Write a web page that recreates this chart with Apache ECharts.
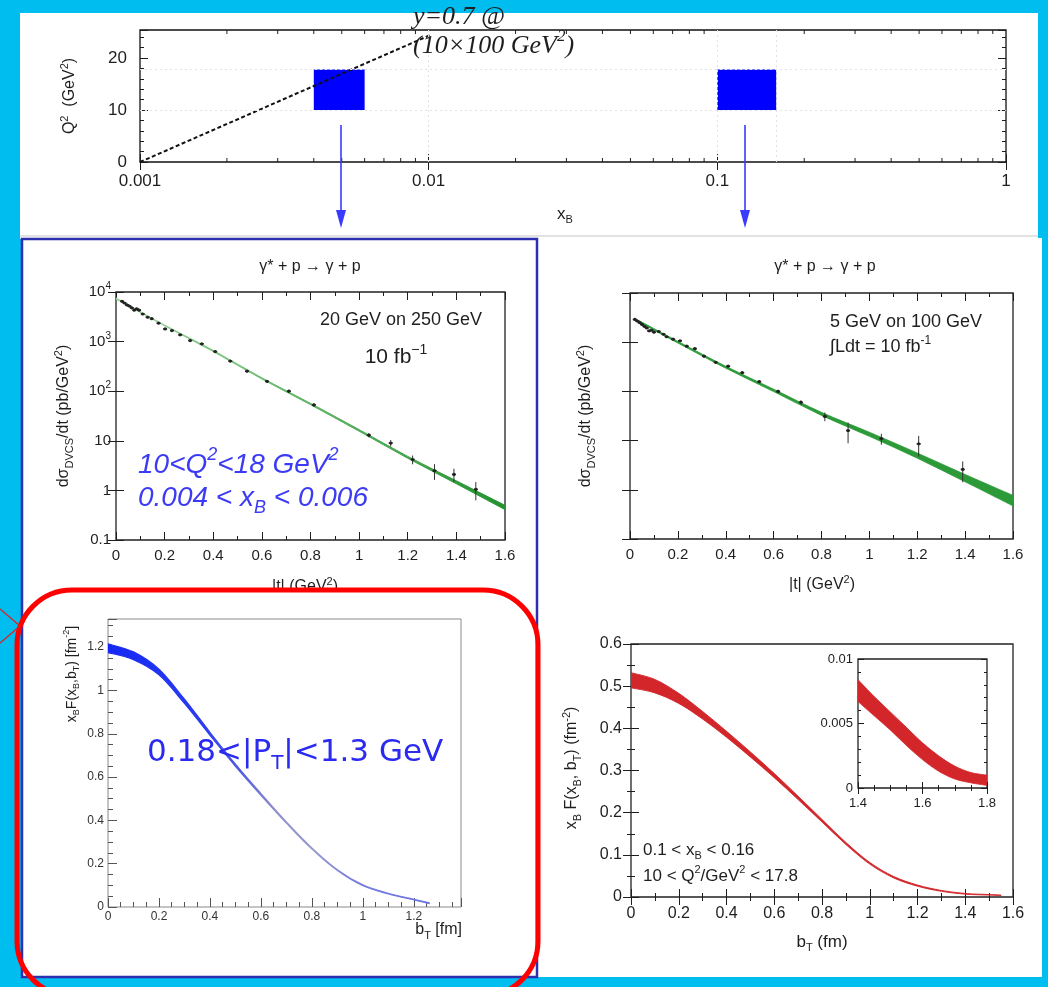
<!DOCTYPE html>
<html>
<head>
<meta charset="utf-8">
<script src="https://cdn.jsdelivr.net/npm/echarts@6/dist/echarts.min.js"></script>
<style>
  html, body { margin: 0; padding: 0; background: #00bdf0; }
  #c { width: 1048px; height: 987px; }
</style>
</head>
<body>
<div id="c"></div>
<script>
// ---------- kinematic coverage (x_B, Q^2) ----------
const binXLow  = [0.004, 0.1];
const binXHigh = [0.006, 0.16];
const binQ2Low  = [10, 10];
const binQ2High = [17.8, 17.8];
// y = 0.7 line
const yLineX  = [0.001, 0.0102];
const yLineQ2 = [0, 24.5];
// reference grid lines
const gridQ2 = [10, 17.8];
const gridX  = [0.004, 0.006, 0.1, 0.16];

// ---------- DVCS cross section, 20 GeV on 250 GeV ----------
const tA   = [0.025, 0.035, 0.045, 0.055, 0.065, 0.075, 0.085, 0.095, 0.11, 0.13, 0.147, 0.175, 0.202, 0.23, 0.264, 0.305, 0.353, 0.408, 0.47, 0.539, 0.621, 0.711, 0.814, 1.04, 1.13, 1.22, 1.31, 1.39, 1.48];
const sigA = [6500, 6000, 5500, 5200, 4800, 4300, 4600, 4300, 3600, 3100, 2900, 2350, 1800, 1670, 1370, 1050, 900, 630, 405, 253, 158, 100, 53, 13, 9, 4.2, 2.5, 2.1, 1.05];
const errA = [0.03, 0.03, 0.03, 0.03, 0.03, 0.03, 0.03, 0.03, 0.03, 0.03, 0.03, 0.03, 0.03, 0.03, 0.03, 0.04, 0.04, 0.04, 0.05, 0.05, 0.06, 0.07, 0.08, 0.1, 0.15, 0.2, 0.35, 0.3, 0.4];
const fitTA    = [0, 0.2, 0.4, 0.6, 0.8, 1.0, 1.2, 1.4, 1.6];
const fitLowA  = [7200, 2080, 630, 176, 53.5, 15.6, 4.45, 1.36, 0.41];
const fitHighA = [7600, 2150, 665, 186, 57, 16.8, 4.85, 1.56, 0.5];

// ---------- DVCS cross section, 5 GeV on 100 GeV ----------
const tB   = [0.02, 0.03, 0.04, 0.05, 0.06, 0.07, 0.08, 0.09, 0.1, 0.12, 0.14, 0.153, 0.18, 0.209, 0.237, 0.271, 0.309, 0.358, 0.41, 0.469, 0.54, 0.619, 0.714, 0.814, 0.911, 1.05, 1.206, 1.39];
const sigB = [2900, 2700, 2500, 2300, 2100, 1950, 1700, 1750, 1600, 1650, 1450, 1290, 1150, 1070, 830, 740, 520, 390, 325, 240, 158, 100, 60, 31, 16, 11, 8.6, 2.6];
const errB = [0.03, 0.03, 0.03, 0.03, 0.03, 0.03, 0.03, 0.03, 0.03, 0.03, 0.03, 0.03, 0.03, 0.03, 0.04, 0.04, 0.05, 0.05, 0.05, 0.06, 0.07, 0.08, 0.1, 0.2, 0.45, 0.25, 0.45, 0.45];
const fitTB    = [0.02, 0.2, 0.4, 0.6, 0.8, 1.0, 1.2, 1.4, 1.6];
const fitLowB  = [2850, 960, 296, 99, 32.5, 12.2, 4.4, 1.45, 0.47];
const fitHighB = [3050, 1040, 324, 111, 37.5, 14.8, 5.6, 2.05, 0.77];

// ---------- impact-parameter profile, 0.18 < |P_T| < 1.3 GeV ----------
const bBlue    = [0, 0.1, 0.2, 0.3, 0.4, 0.5, 0.6, 0.7, 0.8, 0.9, 1.0, 1.1, 1.2, 1.26];
const lowBlue  = [1.175, 1.142, 1.072, 0.94, 0.793, 0.65, 0.516, 0.387, 0.267, 0.168, 0.098, 0.0605, 0.0325, 0.0165];
const highBlue = [1.215, 1.178, 1.098, 0.96, 0.807, 0.66, 0.524, 0.393, 0.273, 0.172, 0.102, 0.0635, 0.0355, 0.0195];

// ---------- impact-parameter profile, 0.1 < x_B < 0.16 ----------
const bRed    = [0, 0.1, 0.2, 0.3, 0.4, 0.5, 0.6, 0.7, 0.8, 0.9, 1.0, 1.1, 1.2, 1.3, 1.4, 1.5, 1.55];
const lowRed  = [0.496, 0.484, 0.459, 0.422, 0.379, 0.332, 0.283, 0.231, 0.178, 0.1245, 0.078, 0.0453, 0.0256, 0.0134, 0.0067, 0.0045, 0.0034];
const highRed = [0.532, 0.516, 0.483, 0.440, 0.393, 0.344, 0.293, 0.239, 0.184, 0.1295, 0.082, 0.0487, 0.0284, 0.0156, 0.0084, 0.0059, 0.0047];
// tail (inset)
const bTail    = [1.4, 1.45, 1.5, 1.55, 1.6, 1.65, 1.7, 1.75, 1.8];
const lowTail  = [0.0067, 0.0056, 0.0045, 0.0033, 0.0022, 0.0013, 0.0007, 0.0004, 0.0002];
const highTail = [0.0084, 0.0071, 0.0059, 0.0047, 0.0035, 0.0025, 0.0017, 0.0012, 0.0010];

// ---------- styling helpers ----------
const FONT = '"Liberation Sans", Arial, Helvetica, sans-serif';
const SERIF = '"Liberation Serif", "Times New Roman", serif';
const INK = '#1e1e1e';

function richSet(size, color, extra) {
  const base = Object.assign({ fontFamily: FONT, color: color, fill: color }, extra || {});
  const small = Math.round(size * 0.66);
  return {
    n:   Object.assign({}, base, { fontSize: size, lineHeight: Math.round(size * 1.35) }),
    sup: Object.assign({}, base, { fontSize: small, lineHeight: small, verticalAlign: 'top' }),
    sub: Object.assign({}, base, { fontSize: small, lineHeight: small, verticalAlign: 'bottom' })
  };
}

function txt(x, y, text, size, o) {
  o = o || {};
  const color = o.color || INK;
  const extra = {};
  if (o.family) extra.fontFamily = o.family;
  if (o.italic) extra.fontStyle = 'italic';
  return {
    type: 'text', x: x, y: y, rotation: o.rot || 0, z: 50,
    style: {
      text: text, rich: richSet(size, color, extra), fill: color,
      fontSize: size, fontFamily: o.family || FONT, fontStyle: o.italic ? 'italic' : 'normal',
      align: o.align || 'center', verticalAlign: 'middle'
    }
  };
}

function numFmt(v) {
  const r = Math.round(v * 1000) / 1000;
  return r === 0 ? '0' : String(r);
}

function linAxis(grid, pos, min, max, interval, o) {
  o = o || {};
  const tc = o.tc || INK;
  return {
    type: 'value', gridIndex: grid, position: pos, min: min, max: max, interval: interval,
    axisLine: { show: false }, splitLine: { show: false },
    axisTick: { show: true, inside: true, length: o.tick || 8, lineStyle: { color: tc, width: 1 } },
    minorTick: { show: !!o.minor, splitNumber: o.minor || 5, length: o.mtick || 4, lineStyle: { color: tc, width: 1 } },
    axisLabel: {
      show: !!o.label, margin: o.margin || 8, fontSize: o.fs || 15, fontFamily: FONT,
      color: o.lc || INK, formatter: o.fmt || numFmt, showMaxLabel: o.showMax !== false, showMinLabel: true,
      hideOverlap: false
    }
  };
}

function logAxis(grid, pos, min, max, o) {
  o = o || {};
  return {
    type: 'log', logBase: 10, gridIndex: grid, position: pos, min: min, max: max,
    axisLine: { show: false }, splitLine: { show: false },
    axisTick: { show: true, inside: true, length: o.tick || 8, lineStyle: { color: INK, width: 1 } },
    minorTick: { show: false },
    axisLabel: {
      show: !!o.label, margin: o.margin || 8, fontSize: o.fs || 15, fontFamily: FONT, color: INK,
      formatter: o.fmt, rich: o.rich, hideOverlap: false, showMaxLabel: true, showMinLabel: true
    }
  };
}

// decade labels: 10^4 ... 0.1
const decadeRich = {
  b: { fontSize: 15, lineHeight: 21, fontFamily: FONT, color: INK },
  s: { fontSize: 10, lineHeight: 10, fontFamily: FONT, color: INK, verticalAlign: 'top' }
};
function decadeFmt(v) {
  const e = Math.round(Math.log10(v));
  if (e >= 2) return '{b|10}{s|' + e + '}';
  if (e === 1) return '{b|10}';
  if (e === 0) return '{b|1}';
  return '{b|0.1}';
}
function xbFmt(v) {
  const e = Math.round(Math.log10(v));
  return ['0.001', '0.01', '0.1', '1'][e + 3];
}

// minor log ticks for the x_B axis (2..9 in each decade)
const xbMinor = [];
[0.001, 0.01, 0.1].forEach(function (d) { for (let k = 2; k <= 9; k++) xbMinor.push(d * k); });

// ---------- series builders ----------
// smooth open curve (Catmull-Rom -> cubic Bezier) through pixel points
function splineSegs(pts) {
  let d = '';
  for (let i = 0; i < pts.length - 1; i++) {
    const p0 = pts[i - 1] || pts[i], p1 = pts[i], p2 = pts[i + 1], p3 = pts[i + 2] || pts[i + 1];
    const c1x = p1[0] + (p2[0] - p0[0]) / 6, c1y = p1[1] + (p2[1] - p0[1]) / 6;
    const c2x = p2[0] - (p3[0] - p1[0]) / 6, c2y = p2[1] - (p3[1] - p1[1]) / 6;
    d += ' C' + c1x.toFixed(2) + ',' + c1y.toFixed(2) + ' ' + c2x.toFixed(2) + ',' + c2y.toFixed(2) + ' ' + p2[0].toFixed(2) + ',' + p2[1].toFixed(2);
  }
  return d;
}

// uncertainty band between lo and hi, drawn through the axis scales
function band(xi, yi, xs, lo, hi, fill, edge) {
  return {
    type: 'custom', xAxisIndex: xi, yAxisIndex: yi, silent: true, z: 2, clip: true,
    data: [[xs[0], lo[0]]], encode: { x: 0, y: 1 },
    renderItem: function (params, api) {
      const up = xs.map(function (x, i) { return api.coord([x, hi[i]]); });
      const dn = xs.map(function (x, i) { return api.coord([x, lo[i]]); }).reverse();
      const d = 'M' + up[0][0] + ',' + up[0][1] + splineSegs(up) +
                ' L' + dn[0][0] + ',' + dn[0][1] + splineSegs(dn) + ' Z';
      return { type: 'path', shape: { pathData: d }, style: { fill: fill, stroke: fill, lineWidth: edge || 0.8 } };
    }
  };
}

function pointsCustom(xi, yi, ts, vs, errs) {
  return {
    type: 'custom', xAxisIndex: xi, yAxisIndex: yi, silent: true, z: 3,
    data: ts.map(function (t, i) { return [t, vs[i], vs[i] * (1 - errs[i]), vs[i] * (1 + errs[i])]; }),
    encode: { x: 0, y: 1 },
    renderItem: function (params, api) {
      const p = api.coord([api.value(0), api.value(1)]);
      const a = api.coord([api.value(0), api.value(2)]);
      const b = api.coord([api.value(0), api.value(3)]);
      return {
        type: 'group', children: [
          { type: 'line', shape: { x1: p[0], y1: a[1], x2: p[0], y2: b[1] }, style: { stroke: '#333', lineWidth: 1 } },
          { type: 'line', shape: { x1: p[0] - 2, y1: p[1], x2: p[0] + 2, y2: p[1] }, style: { stroke: '#222', lineWidth: 1.6 } },
          { type: 'circle', shape: { cx: p[0], cy: p[1], r: 1.6 }, style: { fill: '#222' } }
        ]
      };
    }
  };
}

const blueGrad = new echarts.graphic.LinearGradient(0, 0, 1, 0, [
  { offset: 0, color: '#1428f2' }, { offset: 0.3, color: '#2a3cf0' }, { offset: 0.42, color: '#5560e0' },
  { offset: 0.52, color: '#9090cc' }, { offset: 0.64, color: '#9a9ace' }, { offset: 0.76, color: '#7a80de' },
  { offset: 1, color: '#6a74e6' }
]);
const greenGradA = new echarts.graphic.LinearGradient(0, 0, 1, 0, [
  { offset: 0, color: '#9ad59a' }, { offset: 0.5, color: '#5fb465' }, { offset: 1, color: '#23922f' }
]);
const RED = '#d3262b';

// ---------- grids ----------
const grids = [
  { left: 140, top: 30, width: 866, height: 132, borderColor: '#111', borderWidth: 1.3 },  // coverage
  { left: 116, top: 292, width: 389, height: 248, borderColor: '#222', borderWidth: 1.3 }, // dσ/dt 20x250
  { left: 630, top: 293, width: 383, height: 246, borderColor: '#222', borderWidth: 1.3 }, // dσ/dt 5x100
  { left: 108, top: 619, width: 353, height: 288, borderColor: '#8a8a8a', borderWidth: 1 }, // blue profile
  { left: 631, top: 644, width: 382, height: 253, borderColor: '#222', borderWidth: 1.3 }, // red profile
  { left: 858, top: 659, width: 129, height: 129, borderColor: '#222', borderWidth: 1.3, backgroundColor: '#fff' } // inset
].map(function (g) {
  return Object.assign({ show: true, containLabel: false, outerBoundsMode: 'none', backgroundColor: 'transparent' }, g);
});

const xAxes = [
  logAxis(0, 'bottom', 0.001, 1, { label: true, fs: 17, margin: 11, fmt: xbFmt, tick: 8 }),
  logAxis(0, 'top', 0.001, 1, { tick: 8 }),
  linAxis(1, 'bottom', 0, 1.6, 0.2, { label: true, minor: 2, margin: 8, fs: 15 }),
  linAxis(1, 'top', 0, 1.6, 0.2, { minor: 2 }),
  linAxis(2, 'bottom', 0, 1.6, 0.2, { label: true, minor: 2, margin: 8, fs: 15 }),
  linAxis(2, 'top', 0, 1.6, 0.2, { minor: 2 }),
  linAxis(3, 'bottom', 0, 1.385, 0.2, { label: true, minor: 4, tick: 9, mtick: 5, margin: 4, fs: 12, tc: '#555', lc: '#333', showMax: false }),
  linAxis(4, 'bottom', 0, 1.6, 0.2, { label: true, minor: 2, margin: 9, fs: 16 }),
  linAxis(4, 'top', 0, 1.6, 0.2, { minor: 2 }),
  linAxis(5, 'bottom', 1.4, 1.8, 0.2, { label: true, minor: 4, margin: 9, fs: 13, tick: 6, mtick: 3 }),
  linAxis(5, 'top', 1.4, 1.8, 0.2, { minor: 4, tick: 6, mtick: 3 })
];

const yAxes = [
  linAxis(0, 'left', 0, 25.4, 10, { label: true, minor: 5, fs: 17, margin: 13, showMax: false }),
  linAxis(0, 'right', 0, 25.4, 10, { minor: 5 }),
  logAxis(1, 'left', 0.1, 10000, { label: true, margin: 5, fmt: decadeFmt, rich: decadeRich }),
  logAxis(1, 'right', 0.1, 10000, {}),
  logAxis(2, 'left', 0.1, 10000, {}),
  logAxis(2, 'right', 0.1, 10000, {}),
  linAxis(3, 'left', 0, 1.33, 0.2, { label: true, minor: 4, tick: 9, mtick: 5, margin: 4, fs: 12, tc: '#555', lc: '#333', showMax: false }),
  linAxis(4, 'left', 0, 0.6, 0.1, { label: true, minor: 2, margin: 9, fs: 16 }),
  linAxis(4, 'right', 0, 0.6, 0.1, { minor: 2 }),
  linAxis(5, 'left', 0, 0.01, 0.005, { label: true, minor: 5, margin: 5, fs: 13, tick: 6, mtick: 3 }),
  linAxis(5, 'right', 0, 0.01, 0.005, { minor: 5, tick: 6, mtick: 3 })
];

// ---------- series ----------
const series = [
  // faint reference lines in the coverage plot
  {
    type: 'line', xAxisIndex: 0, yAxisIndex: 0, data: [], silent: true,
    markLine: {
      silent: true, symbol: 'none', label: { show: false },
      lineStyle: { type: [2, 3], color: '#e2e2e2', width: 1 },
      data: gridQ2.map(function (q) { return { yAxis: q }; }).concat(gridX.map(function (x) { return { xAxis: x }; }))
    }
  },
  // kinematic bins
  {
    type: 'custom', xAxisIndex: 0, yAxisIndex: 0, silent: true, z: 2,
    data: binXLow.map(function (x, i) { return [x, binXHigh[i], binQ2Low[i], binQ2High[i]]; }),
    encode: { x: [0, 1], y: [2, 3] },
    renderItem: function (params, api) {
      const p0 = api.coord([api.value(0), api.value(2)]);
      const p1 = api.coord([api.value(1), api.value(3)]);
      return { type: 'rect', shape: { x: p0[0], y: p1[1], width: p1[0] - p0[0], height: p0[1] - p1[1] }, style: { fill: '#0000ff' } };
    }
  },
  // y = 0.7
  {
    type: 'line', xAxisIndex: 0, yAxisIndex: 0, symbol: 'none', silent: true, z: 3,
    data: yLineX.map(function (x, i) { return [x, yLineQ2[i]]; }),
    lineStyle: { color: '#111', width: 2, type: [4, 2.5] }
  },
  // log minor ticks on the x_B axis (bottom and top)
  {
    type: 'custom', xAxisIndex: 0, yAxisIndex: 0, silent: true, z: 3,
    data: xbMinor.map(function (v) { return [v, 0]; }), encode: { x: 0, y: 1 },
    renderItem: function (params, api) {
      const cs = params.coordSys;
      const x = api.coord([api.value(0), 0])[0];
      const yb = cs.y + cs.height;
      return {
        type: 'group', children: [
          { type: 'line', shape: { x1: x, y1: yb, x2: x, y2: yb - 4 }, style: { stroke: INK, lineWidth: 1 } },
          { type: 'line', shape: { x1: x, y1: cs.y, x2: x, y2: cs.y + 4 }, style: { stroke: INK, lineWidth: 1 } }
        ]
      };
    }
  },
  band(2, 2, fitTA, fitLowA, fitHighA, greenGradA, 1),
  pointsCustom(2, 2, tA, sigA, errA),
  band(4, 4, fitTB, fitLowB, fitHighB, '#2c9a38', 0.8),
  pointsCustom(4, 4, tB, sigB, errB),
  band(6, 6, bBlue, lowBlue, highBlue, blueGrad, 1.2),
  band(7, 7, bRed, lowRed, highRed, RED, 0.9),
  band(9, 9, bTail, lowTail, highTail, RED, 0.8)
];

// ---------- page furniture and annotations ----------
const BLUE_TXT = '#3b3bf5';
const graphics = [
  // panels
  { type: 'rect', z: -10, shape: { x: 20, y: 13, width: 1018, height: 226 }, style: { fill: '#ffffff' } },
  { type: 'rect', z: -10, shape: { x: 22, y: 238, width: 1020, height: 739 }, style: { fill: '#ffffff' } },
  { type: 'line', z: -9, shape: { x1: 20, y1: 236, x2: 1038, y2: 236 }, style: { stroke: '#e2e2e2', lineWidth: 2 } },

  // coverage plot text
  txt(413, 17, 'y=0.7 @', 26, { align: 'left', italic: true, family: SERIF }),
  txt(413, 46, '{n|(10×100 GeV}{sup|2}{n|)}', 26, { align: 'left', italic: true, family: SERIF }),
  txt(70, 96, '{n|Q}{sup|2}{n|  (GeV}{sup|2}{n|)}', 16, { rot: Math.PI / 2 }),
  txt(565, 214, '{n|x}{sub|B}', 17),

  // arrows
  { type: 'line', z: 60, shape: { x1: 341, y1: 125, x2: 341, y2: 214 }, style: { stroke: '#3a3aff', lineWidth: 1.6 } },
  { type: 'polygon', z: 60, shape: { points: [[336, 210], [346, 210], [341, 228]] }, style: { fill: '#3a3aff' } },
  { type: 'line', z: 60, shape: { x1: 745, y1: 125, x2: 745, y2: 214 }, style: { stroke: '#3a3aff', lineWidth: 1.6 } },
  { type: 'polygon', z: 60, shape: { points: [[740, 210], [750, 210], [745, 228]] }, style: { fill: '#3a3aff' } },

  // dσ/dt, 20 GeV on 250 GeV
  txt(310, 267, 'γ* + p → γ + p', 16),
  txt(64, 416, '{n|dσ}{sub|DVCS}{n|/dt (pb/GeV}{sup|2}{n|)}', 16, { rot: Math.PI / 2 }),
  txt(401, 320, '20 GeV on 250 GeV', 18),
  txt(396, 357, '{n|10 fb}{sup|−1}', 21),
  txt(138, 465, '{n|10<Q}{sup|2}{n|<18 GeV}{sup|2}', 28, { align: 'left', italic: true, color: BLUE_TXT }),
  txt(138, 498, '{n|0.004 < x}{sub|B}{n| < 0.006}', 28, { align: 'left', italic: true, color: BLUE_TXT }),
  txt(305, 587, '{n||t| (GeV}{sup|2}{n|)}', 16),
  { type: 'rect', z: 55, shape: { x: 28, y: 590, width: 505, height: 24 }, style: { fill: '#ffffff' } },

  // dσ/dt, 5 GeV on 100 GeV
  txt(825, 267, 'γ* + p → γ + p', 16),
  txt(586, 416, '{n|dσ}{sub|DVCS}{n|/dt (pb/GeV}{sup|2}{n|)}', 16, { rot: Math.PI / 2 }),
  txt(830, 322, '5 GeV on 100 GeV', 18, { align: 'left' }),
  txt(830, 347, '{n|∫Ldt = 10 fb}{sup|-1}', 18, { align: 'left' }),
  txt(822, 585, '{n||t| (GeV}{sup|2}{n|)}', 16),

  // blue profile
  txt(72, 674, '{n|x}{sub|B}{n|F(x}{sub|B}{n|,b}{sub|T}{n|) [fm}{sup|-2}{n|]}', 14, { rot: Math.PI / 2 }),
  txt(462, 930, '{n|b}{sub|T}{n| [fm]}', 16, { align: 'right' }),
  txt(147, 753, '{n|0.18<|P}{sub|T}{n||<1.3 GeV}', 31, { align: 'left', color: '#2a2af0', family: '"DejaVu Sans", Verdana, sans-serif' }),

  // red profile
  txt(572, 768, '{n|x}{sub|B}{n| F(x}{sub|B}{n|, b}{sub|T}{n|) (fm}{sup|-2}{n|)}', 16, { rot: Math.PI / 2 }),
  txt(822, 942, '{n|b}{sub|T}{n| (fm)}', 17),
  txt(643, 850, '{n|0.1 < x}{sub|B}{n| < 0.16}', 17, { align: 'left' }),
  txt(643, 876, '{n|10 < Q}{sup|2}{n|/GeV}{sup|2}{n| < 17.8}', 17, { align: 'left' }),

  // frames
  { type: 'rect', z: 90, shape: { x: 22, y: 239, width: 515, height: 738 }, style: { fill: 'none', stroke: '#2e2eb0', lineWidth: 2.5 } },
  { type: 'rect', z: 100, shape: { x: 17, y: 590, width: 521, height: 406, r: 55 }, style: { fill: 'none', stroke: '#ff0000', lineWidth: 5 } },
  { type: 'line', z: 100, shape: { x1: 0, y1: 609, x2: 20, y2: 626 }, style: { stroke: '#e02020', lineWidth: 1.3 } },
  { type: 'line', z: 100, shape: { x1: 0, y1: 643, x2: 20, y2: 626 }, style: { stroke: '#e02020', lineWidth: 1.3 } }
];

const chart = echarts.init(document.getElementById('c'), null, { renderer: 'canvas', width: 1048, height: 987 });
chart.setOption({
  animation: false,
  backgroundColor: 'transparent',
  grid: grids,
  xAxis: xAxes,
  yAxis: yAxes,
  series: series,
  graphic: { elements: graphics }
});
</script>
</body>
</html>
